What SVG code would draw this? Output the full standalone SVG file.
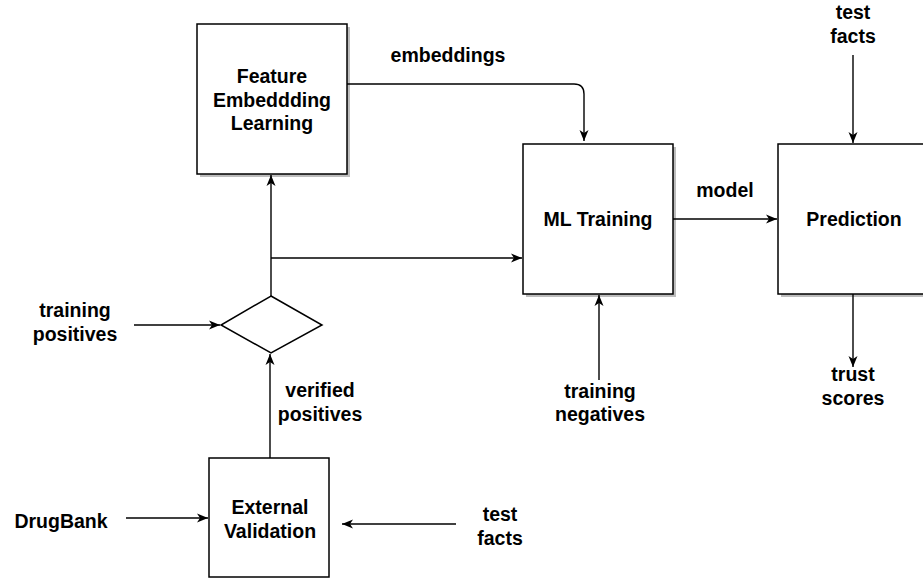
<svg xmlns="http://www.w3.org/2000/svg" width="923" height="581" viewBox="0 0 923 581">
<defs>
<style>
.box{fill:#fff;stroke:#000;stroke-width:1.5}
.shadow{fill:#bdbdbd}
.lbl{font-family:"Liberation Sans",Arial,sans-serif;font-weight:bold;font-size:19.5px;fill:#000;text-anchor:middle}
.edge{fill:none;stroke:#000;stroke-width:1.4}
</style>
<marker id="arr" markerUnits="userSpaceOnUse" markerWidth="12" markerHeight="12" viewBox="0 0 12 12" refX="11" refY="6" orient="auto">
<path d="M0,1.5 L11,6 L0,10.5 L3,6 z" fill="#000"/>
</marker>
</defs>
<rect width="923" height="581" fill="#fff"/>

<g id="feature">
<rect class="shadow" x="200" y="27" width="150" height="150"/>
<rect class="box" x="197" y="24" width="150" height="150"/>
<text class="lbl" x="272" y="83">Feature</text>
<text class="lbl" x="272" y="107">Embeddding</text>
<text class="lbl" x="272" y="130">Learning</text>
</g>

<g id="ml">
<rect class="shadow" x="526" y="147" width="150" height="150"/>
<rect class="box" x="523" y="144" width="150" height="150"/>
<text class="lbl" x="598" y="226">ML Training</text>
</g>

<g id="prediction">
<rect class="shadow" x="781" y="147" width="150" height="150"/>
<rect class="box" x="778" y="144" width="150" height="150"/>
<text class="lbl" x="854" y="226">Prediction</text>
</g>

<g id="merge">
<polygon class="box" points="271,296 322,325 271,353 221,325"/>
</g>

<g id="external">
<rect class="box" x="209" y="458" width="120" height="119"/>
<text class="lbl" x="270" y="514">External</text>
<text class="lbl" x="270" y="538">Validation</text>
</g>

<g id="labels">
<text class="lbl" x="448" y="62">embeddings</text>
<text class="lbl" x="725" y="197">model</text>
<text class="lbl" x="853" y="19">test</text>
<text class="lbl" x="853" y="43">facts</text>
<text class="lbl" x="75" y="317">training</text>
<text class="lbl" x="75" y="341">positives</text>
<text class="lbl" x="320" y="397">verified</text>
<text class="lbl" x="320" y="421">positives</text>
<text class="lbl" x="600" y="398">training</text>
<text class="lbl" x="600" y="421">negatives</text>
<text class="lbl" x="853" y="381">trust</text>
<text class="lbl" x="853" y="405">scores</text>
<text class="lbl" x="61" y="528">DrugBank</text>
<text class="lbl" x="500" y="521">test</text>
<text class="lbl" x="500" y="545">facts</text>
</g>

<g id="connectors">
<path class="edge" d="M347,84 H574 Q584,84 584,94 V141" marker-end="url(#arr)"/>
<path class="edge" d="M673,219 H777" marker-end="url(#arr)"/>
<path class="edge" d="M853,55 V143" marker-end="url(#arr)"/>
<path class="edge" d="M853,294 V367" marker-end="url(#arr)"/>
<path class="edge" d="M599,380 V295" marker-end="url(#arr)"/>
<path class="edge" d="M271,296 V175" marker-end="url(#arr)"/>
<path class="edge" d="M271,258 H522" marker-end="url(#arr)"/>
<path class="edge" d="M134,325 H220" marker-end="url(#arr)"/>
<path class="edge" d="M270,458 V354" marker-end="url(#arr)"/>
<path class="edge" d="M126,518 H208" marker-end="url(#arr)"/>
<path class="edge" d="M456,524 H342" marker-end="url(#arr)"/>
</g>
</svg>
